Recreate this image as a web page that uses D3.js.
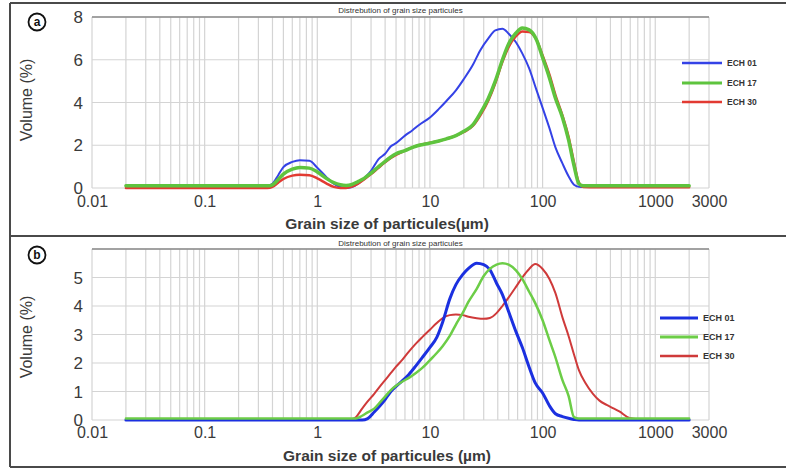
<!DOCTYPE html>
<html>
<head>
<meta charset="utf-8">
<script src="https://cdn.jsdelivr.net/npm/d3@7"></script>
<style>
  html, body { margin: 0; padding: 0; background: #fff; }
  svg { display: block; font-family: "Liberation Sans", Arial, sans-serif; }
</style>
</head>
<body>
<svg id="chart" width="786" height="469"></svg>
<script>
// ---------- data ----------
const seriesNames = ["ECH 01", "ECH 17", "ECH 30"];
const chartTitle = "Distrebution of grain size particules";
const xTicks = [0.01, 0.1, 1, 10, 100, 1000, 3000];
const xTickLabels = ["0.01", "0.1", "1", "10", "100", "1000", "3000"];
const yTicksA = [0, 2, 4, 6, 8];
const yTicksB = [0, 1, 2, 3, 4, 5];
const yGridB = [0, 1, 2, 3, 4, 5, 6];

// panel (a)
const sizesA = [0.02, 0.05, 0.1, 0.2, 0.3, 0.36, 0.4, 0.45, 0.5, 0.6, 0.7, 0.85, 1.0, 1.2, 1.4, 1.6, 1.8, 2.0, 2.3, 2.6, 3.0, 3.5, 4, 4.5, 5, 6, 7, 8, 10, 12, 14, 17, 20, 24, 28, 33, 38, 44, 50, 58, 66, 76, 88, 100, 115, 130, 150, 170, 190, 210, 230, 300, 500, 1000, 2000];
const ech01A = [0.1, 0.1, 0.1, 0.1, 0.1, 0.1, 0.2, 0.6, 0.98, 1.22, 1.3, 1.27, 0.95, 0.52, 0.2, 0.05, 0.0, 0.03, 0.2, 0.45, 0.8, 1.35, 1.6, 1.95, 2.1, 2.45, 2.7, 2.95, 3.3, 3.7, 4.07, 4.57, 5.1, 5.75, 6.45, 7.0, 7.37, 7.45, 7.22, 6.82, 6.3, 5.6, 4.6, 3.75, 2.8, 1.9, 1.15, 0.55, 0.15, 0.06, 0.05, 0.05, 0.05, 0.05, 0.05];
const ech17A = [0.1, 0.1, 0.1, 0.1, 0.1, 0.1, 0.15, 0.4, 0.65, 0.88, 0.96, 0.93, 0.75, 0.45, 0.25, 0.15, 0.12, 0.15, 0.3, 0.45, 0.7, 1.0, 1.25, 1.45, 1.6, 1.75, 1.9, 2.0, 2.1, 2.2, 2.3, 2.45, 2.65, 2.95, 3.5, 4.2, 5.0, 6.0, 6.75, 7.25, 7.48, 7.4, 6.95, 6.1, 5.15, 4.2, 3.3, 2.25, 1.05, 0.2, 0.1, 0.1, 0.1, 0.1, 0.1];
const ech30A = [0.0, 0.0, 0.0, 0.0, 0.0, 0.0, 0.05, 0.25, 0.42, 0.58, 0.62, 0.6, 0.45, 0.22, 0.05, 0.0, 0.0, 0.05, 0.2, 0.4, 0.65, 0.95, 1.2, 1.4, 1.55, 1.75, 1.9, 2.0, 2.12, 2.2, 2.3, 2.45, 2.62, 2.9, 3.4, 4.1, 4.9, 5.9, 6.6, 7.1, 7.32, 7.3, 6.95, 6.2, 5.3, 4.35, 3.4, 2.4, 1.2, 0.25, 0.05, 0.03, 0.03, 0.03, 0.03];

// panel (b)
const sizesB = [0.02, 0.05, 0.1, 0.2, 0.5, 1, 1.5, 2, 2.2, 2.5, 2.8, 3.2, 3.6, 4, 4.5, 5, 5.7, 6.5, 7.5, 8.5, 10, 11.5, 13, 15, 17, 19.5, 22, 26, 30, 34, 39, 44, 50, 58, 66, 76, 86, 100, 115, 130, 150, 170, 190, 210, 240, 280, 320, 370, 420, 480, 590, 700, 1000, 2000];
const ech01B = [0, 0, 0, 0, 0, 0, 0, 0, 0, 0, 0.05, 0.28, 0.5, 0.72, 1.0, 1.18, 1.38, 1.6, 1.9, 2.18, 2.55, 2.9, 3.45, 4.25, 4.75, 5.1, 5.32, 5.5, 5.45, 5.28, 4.8, 4.4, 3.8, 3.1, 2.55, 1.85, 1.3, 0.95, 0.5, 0.22, 0.12, 0.06, 0.02, 0, 0, 0, 0, 0, 0, 0, 0, 0, 0, 0];
const ech17B = [0.05, 0.05, 0.05, 0.05, 0.05, 0.05, 0.05, 0.05, 0.05, 0.15, 0.27, 0.4, 0.62, 0.82, 1.05, 1.2, 1.35, 1.48, 1.65, 1.82, 2.1, 2.35, 2.6, 2.95, 3.35, 3.75, 4.15, 4.6, 5.05, 5.3, 5.45, 5.5, 5.45, 5.25, 4.95, 4.5, 4.1, 3.5, 2.8, 2.2, 1.4, 0.85, 0.1, 0.05, 0.05, 0.05, 0.05, 0.05, 0.05, 0.05, 0.05, 0.05, 0.05, 0.05];
const ech30B = [0.03, 0.03, 0.03, 0.03, 0.03, 0.03, 0.03, 0.03, 0.1, 0.4, 0.65, 0.92, 1.18, 1.4, 1.65, 1.87, 2.12, 2.4, 2.68, 2.9, 3.17, 3.4, 3.58, 3.68, 3.7, 3.68, 3.62, 3.57, 3.55, 3.58, 3.75, 4.0, 4.3, 4.67, 5.0, 5.3, 5.47, 5.3, 4.95, 4.45, 3.6, 2.95, 2.3, 1.75, 1.3, 0.92, 0.68, 0.53, 0.42, 0.3, 0.07, 0.03, 0.03, 0.03];

// ---------- drawing ----------
const svg = d3.select("#chart");
const X0 = 92, X1 = 709;
const x = d3.scaleLog().domain([0.01, 3000]).range([X0, X1]);

// vertical grid values: 1..9 x 10^k
const vGrid = [];
for (let k = -2; k <= 3; k++) for (let m = 1; m <= 9; m++) {
  const v = m * Math.pow(10, k);
  if (v > 0.0099 && v <= 3000.1) vGrid.push(v);
}

// frame
const frame = svg.append("g").attr("stroke", "#4a4a4a").attr("stroke-width", 2).attr("fill", "none");
frame.append("line").attr("x1", 10).attr("x2", 10).attr("y1", 3).attr("y2", 467);
frame.append("line").attr("x1", 10).attr("x2", 786).attr("y1", 3).attr("y2", 3);
frame.append("line").attr("x1", 10).attr("x2", 786).attr("y1", 236).attr("y2", 236);
frame.append("line").attr("x1", 10).attr("x2", 786).attr("y1", 467).attr("y2", 467);

const panels = [
  {
    letter: "a", top: 17, bottom: 188, ymax: 8, yTicks: yTicksA, yGrid: yTicksA,
    sizes: sizesA, series: [ech01A, ech17A, ech30A],
    colors: ["#3442e6", "#5ec43e", "#e23a32"], widths: [2, 3.5, 2.5], order: [0, 2, 1],
    titleY: 13, xLabY: 207, axTitleY: 229, volY: 100, circle: [37, 22],
    axisTitle: "Grain size of particules(µm)",
    leg: { x1: 682, x2: 722, tx: 727, ys: [63, 83, 102], fs: 8.5, widths: [2.5, 3, 2.5] }
  },
  {
    letter: "b", top: 249, bottom: 420, ymax: 6, yTicks: yTicksB, yGrid: yGridB,
    sizes: sizesB, series: [ech01B, ech17B, ech30B],
    colors: ["#1b30e0", "#6ccd47", "#cf3a3a"], widths: [3, 2.5, 2], order: [2, 0, 1],
    titleY: 246, xLabY: 438, axTitleY: 461, volY: 337, circle: [37, 255],
    axisTitle: "Grain size of particules (µm)",
    leg: { x1: 660, x2: 698, tx: 703, ys: [318, 337, 356], fs: 9, widths: [3, 3, 2.5] }
  }
];

panels.forEach(p => {
  const y = d3.scaleLinear().domain([0, p.ymax]).range([p.bottom, p.top]);
  const g = svg.append("g");

  // grid
  g.append("g").selectAll("line").data(vGrid).join("line")
    .attr("x1", d => x(d)).attr("x2", d => x(d))
    .attr("y1", p.top).attr("y2", p.bottom)
    .attr("stroke", "#d4d4d4").attr("stroke-width", 1.2);
  g.append("g").selectAll("line").data(p.yGrid).join("line")
    .attr("x1", X0).attr("x2", X1)
    .attr("y1", d => y(d)).attr("y2", d => y(d))
    .attr("stroke", "#d4d4d4").attr("stroke-width", 1.2);
  g.append("line").attr("x1", X0).attr("x2", X1).attr("y1", p.top).attr("y2", p.top)
    .attr("stroke", "#8a8a8a").attr("stroke-width", 1.5);

  // axes via d3 axis generators (labels only)
  const yAxis = d3.axisLeft(y).tickValues(p.yTicks).tickSize(0).tickPadding(0).tickFormat(d3.format("d"));
  const ya = g.append("g").attr("transform", `translate(83,0)`).call(yAxis);
  ya.select(".domain").remove();
  ya.selectAll("text").attr("font-size", 17).attr("fill", "#3a3a3a")
    .attr("font-family", "'Liberation Sans', Arial, sans-serif").attr("dy", "0.33em");

  const xAxis = d3.axisBottom(x).tickValues(xTicks).tickSize(0).tickPadding(0)
    .tickFormat((d, i) => xTickLabels[i]);
  const xa = g.append("g").attr("transform", `translate(0,${p.xLabY})`).call(xAxis);
  xa.select(".domain").remove();
  xa.selectAll("text").attr("font-size", 16).attr("fill", "#3a3a3a")
    .attr("font-family", "'Liberation Sans', Arial, sans-serif").attr("dy", 0).attr("y", 0);

  // titles
  g.append("text").attr("x", (X0 + X1) / 2).attr("y", p.titleY).attr("text-anchor", "middle")
    .attr("font-size", 8).attr("fill", "#333").text(chartTitle);
  g.append("text").attr("x", 387).attr("y", p.axTitleY).attr("text-anchor", "middle")
    .attr("font-size", 15.5).attr("font-weight", "bold").attr("fill", "#3a3a3a").text(p.axisTitle);
  g.append("text").attr("transform", `translate(32,${p.volY}) rotate(-90)`).attr("text-anchor", "middle")
    .attr("font-size", 16).attr("fill", "#3a3a3a").text("Volume (%)");

  // circled letter
  g.append("circle").attr("cx", p.circle[0]).attr("cy", p.circle[1]).attr("r", 8.5)
    .attr("fill", "none").attr("stroke", "#111").attr("stroke-width", 1.8);
  g.append("text").attr("x", p.circle[0]).attr("y", p.circle[1] + 4).attr("text-anchor", "middle")
    .attr("font-size", 12).attr("font-weight", "bold").attr("fill", "#111").text(p.letter);

  // lines
  const line = d3.line().x(d => x(d[0])).y(d => y(d[1])).curve(d3.curveMonotoneX);
  p.order.forEach(i => {
    const pts = p.sizes.map((s, j) => [s, p.series[i][j]]);
    g.append("path").datum(pts).attr("d", line).attr("fill", "none")
      .attr("stroke", p.colors[i]).attr("stroke-width", p.widths[i])
      .attr("stroke-linejoin", "round").attr("stroke-linecap", "round");
  });

  // legend
  seriesNames.forEach((name, i) => {
    g.append("line").attr("x1", p.leg.x1).attr("x2", p.leg.x2)
      .attr("y1", p.leg.ys[i]).attr("y2", p.leg.ys[i])
      .attr("stroke", p.colors[i]).attr("stroke-width", p.leg.widths[i]);
    g.append("text").attr("x", p.leg.tx).attr("y", p.leg.ys[i] + 3)
      .attr("font-size", p.leg.fs).attr("font-weight", "bold").attr("fill", "#333").text(name);
  });
});
</script>
</body>
</html>
